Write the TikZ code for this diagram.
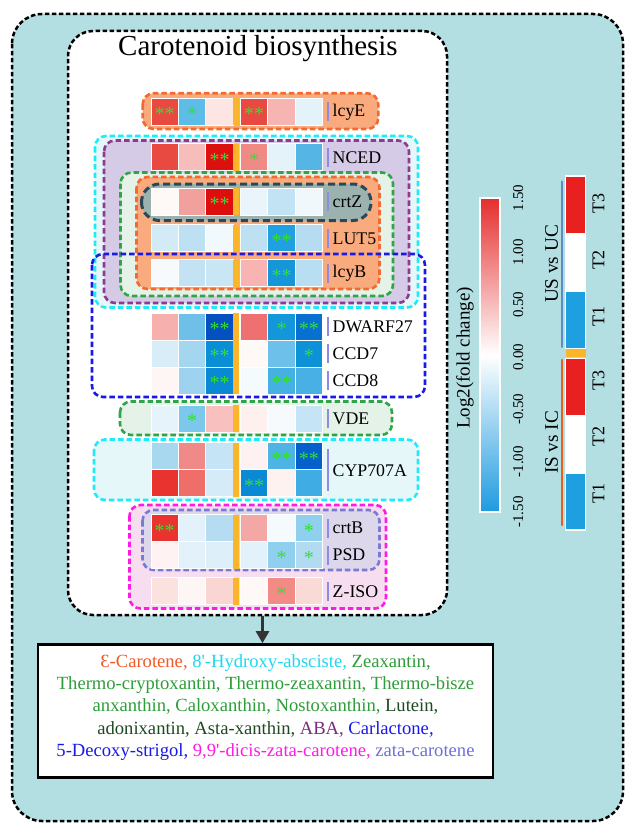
\documentclass[tikz,border=0pt]{standalone}
\usepackage{fontspec}
\setmainfont{Liberation Serif}
\usetikzlibrary{arrows.meta}
\definecolor{teal}{HTML}{B3DFE3}
\definecolor{ofill}{HTML}{FAAB7E}
\definecolor{oline}{HTML}{F26A30}
\definecolor{cline}{HTML}{1EEBFA}
\definecolor{cfill}{HTML}{E6F7FA}
\definecolor{pline}{HTML}{8E3A8E}
\definecolor{pfill}{HTML}{D5CBE7}
\definecolor{gline}{HTML}{30A548}
\definecolor{gfill}{HTML}{E4F2E8}
\definecolor{zline}{HTML}{2A4858}
\definecolor{zfill}{HTML}{9CB2AE}
\definecolor{bline}{HTML}{1A1AE6}
\definecolor{mline}{HTML}{FF1AE6}
\definecolor{mfill}{HTML}{F6DDF0}
\definecolor{sline}{HTML}{7A7AD2}
\definecolor{sfill}{HTML}{DDD7EC}
\definecolor{barorange}{HTML}{FBB52A}
\definecolor{labelbar}{HTML}{8C8CE6}
\definecolor{stargreen}{HTML}{33E033}
\definecolor{cbred}{HTML}{E52E2E}
\definecolor{cbblue}{HTML}{1E9AE0}
\definecolor{tred}{HTML}{E82020}
\definecolor{tblue}{HTML}{1EA0E0}
\definecolor{usline}{HTML}{5A8BC2}
\definecolor{isline}{HTML}{E8601C}
\definecolor{arrowgray}{HTML}{333333}
\definecolor{tOrange}{HTML}{F05A28}
\definecolor{tCyan}{HTML}{1ED8F0}
\definecolor{tGreen}{HTML}{2E9E3A}
\definecolor{tDkGreen}{HTML}{1E4A22}
\definecolor{tPurple}{HTML}{7A2A7A}
\definecolor{tBlue}{HTML}{1A1AE8}
\definecolor{tMagenta}{HTML}{FF1AE6}
\definecolor{tSlate}{HTML}{6F6FD8}
\newcommand\hrow[3]{%
  \foreach \c/\n [count=\i] in {#3} {%
    \pgfmathsetmacro\xx{137.3+27.4*\i+7.2*(\i>3)}%
    \node[hcell,hx=\c] (#1-\i) at (\xx,#2) {\ifcase\n\or*\or**\fi};}}
\begin{document}
\begin{tikzpicture}[x=1pt,y=-1pt,
  hcell/.style={draw=white,line width=0.9,minimum width=27.4,minimum height=27,inner sep=0,outer sep=0,text=stargreen,font=\fontsize{20}{20}\selectfont,text height=18pt,text depth=0pt},
  hx/.code={\xglobal\definecolor{hx#1}{HTML}{#1}\pgfkeysalso{fill=hx#1}},
  grp/.style={line width=2.6,dash pattern=on 5.5pt off 3pt,rounded corners=11},
  lbl/.style={anchor=west,inner sep=0,font=\fontsize{17.8}{20}\selectfont},
  lbar/.style={fill=labelbar,draw=none,minimum width=2.8,minimum height=19,inner sep=0},
  obar/.style={fill=barorange,draw=none,minimum width=5.2,minimum height=27,inner sep=0},
  bdash/.style={line width=2.5,dash pattern=on 4.5pt off 2.5pt},
  rot/.style={rotate=90,inner sep=0}
]
\useasboundingbox (0,0) rectangle (625,824);
% outer background
\draw[bdash,fill=teal,rounded corners=30] (12,14) rectangle (623,821);
% inner main box
\node[draw,bdash,fill=white,rounded corners=25,minimum width=379,minimum height=584,inner sep=0] (main) at (257.5,323) {};
\node[font=\fontsize{29}{32}\selectfont,inner sep=0] (title) at (258,49) {Carotenoid biosynthesis};
% group boxes
\draw[grp,draw=oline,fill=ofill] (142.7,93.3) rectangle (378.3,129);
\draw[grp,draw=cline,fill=cfill] (95,136) rectangle (418,307.5);
\draw[grp,draw=pline,fill=pfill] (104,140.5) rectangle (409,303);
\draw[grp,draw=gline,fill=gfill] (120.5,172.5) rectangle (393,296);
\draw[grp,draw=oline,fill=ofill] (136.5,177) rectangle (379.5,289);
\draw[grp,draw=zline,fill=zfill,line width=3,dash pattern=on 7pt off 4pt,rounded corners=18] (141.5,184) rectangle (371,220.5);
\draw[grp,draw=bline] (92,254) rectangle (425,397);
\draw[grp,draw=gline,fill=gfill] (120,401.5) rectangle (392,435);
\draw[grp,draw=cline,fill=cfill] (94,439.5) rectangle (418,500);
\draw[grp,draw=mline,fill=mfill] (129.5,505) rectangle (386,608.5);
\draw[grp,draw=sline,fill=sfill] (142.5,510) rectangle (379.5,570);
% heatmap rows
\hrow{lcyE}{111.8}{E84A42/2,5DBCE8/1,FCE5E3/0,E84A42/2,F6B4B2/0,E4F2F9/0}
\hrow{NCED}{157.3}{E84A42/0,F7BDBB/0,DD1010/2,F08A85/1,E4F2F9/0,55B5E5/0}
\hrow{crtZ}{201.8}{FEF8F7/0,F2A09D/0,DD0E0E/2,EAF5FB/0,C2E3F4/0,F0F8FC/0}
\hrow{LUT5}{238.3}{D3EBF7/0,BDE0F2/0,F2F9FC/0,BDE0F2/0,20A0E0/2,B5DCF1/0}
\hrow{lcyB}{273}{F6FAFD/0,C3E3F4/0,C9E6F5/0,F7B4B3/0,1496D8/2,B8DEF2/0}
\hrow{DWARF}{326.6}{F6B0AE/0,6EC0E8/0,0550C0/2,EF7070/0,1496DA/1,0870D0/2}
\hrow{CCD7}{353.8}{D8EDF8/0,A5D6F0/0,0A8ED6/2,FEF8F6/0,6CC0EA/0,0D92D8/1}
\hrow{CCD8}{380.8}{FEF6F5/0,9DD3EF/0,0A88D4/2,F5FAFD/0,45B0E4/2,48B0E4/0}
\hrow{VDE}{418.8}{E6F3FA/0,7CC7EC/1,F8C0BF/0,FDF0EF/0,F6FAFD/0,C5E4F5/0}
\hrow{cypA}{456.3}{A8D8F0/0,F08A88/0,C5E4F5/0,FDF2F1/0,4EB4E6/2,0660CC/2}
\hrow{cypB}{483.3}{E8332E/0,F06E6A/0,D5ECF8/0,0A8AD4/2,FEF2F1/0,40ACE4/0}
\hrow{crtB}{528}{E8332E/2,E2F1FA/0,B5DCF1/0,F4A8A6/0,F4FAFD/0,8ED0EE/1}
\hrow{PSD}{555}{FEF3F2/0,E2F1FA/0,DDEFF9/0,E3F2FA/0,90D0EE/1,B2DBF1/1}
\hrow{ZISO}{591.3}{FBE2DF/0,FEF6F5/0,FAD6D3/0,FEF8F7/0,F28A86/1,FADAD7/0}
% orange separators
\node[obar] (ob1) at (235.9,111.8) {};
\node[obar] (ob2) at (235.9,157.3) {};
\node[obar] (ob3) at (235.9,201.8) {};
\node[obar] (ob4) at (235.9,238.3) {};
\node[obar] (ob5) at (235.9,273) {};
\node[obar,minimum height=81] (ob6) at (235.9,353.8) {};
\node[obar] (ob7) at (235.9,418.8) {};
\node[obar,minimum height=54] (ob8) at (235.9,469.8) {};
\node[obar,minimum height=54] (ob9) at (235.9,541.5) {};
\node[obar] (ob10) at (235.9,591.3) {};
% label bars and labels
\foreach \nm/\y/\t in {a/111.8/lcyE,b/157.3/NCED,c/201.8/crtZ,d/238.3/LUT5,e/273/lcyB,f/326.6/DWARF27,g/353.8/CCD7,h/380.8/CCD8,i/418.8/VDE,k/528/crtB,l/555/PSD,m/591.3/Z-ISO}{
  \node[lbar] (lb\nm) at (328,\y) {};
  \node[lbl] (lt\nm) at (332.5,\y) {\t};
}
\node[lbar,minimum height=42] (lbj) at (328,470) {};
\node[lbl] (ltj) at (332.5,470.5) {CYP707A};
% colour bar legend
\shade[top color=cbred,bottom color=cbblue,middle color=white] (480,198) rectangle (500,512);
\draw[white,line width=1.5] (480,198) rectangle (500,512);
\node[rot,font=\fontsize{19}{20}\selectfont] (cblab) at (465,358) {Log2(fold change)};
\foreach \v/\y [count=\k] in {1.50/198,1.00/252.3,0.50/304.7,0.00/357,-0.50/409.3,-1.00/461.7,-1.50/512}{
  \node[rot,font=\fontsize{15}{16}\selectfont] (tk\k) at (518.3,\y) {\v};
}
% group bar legend
\fill[tred] (565.7,176) rectangle (585.7,232.7);
\fill[white] (565.7,232.7) rectangle (585.7,291.7);
\fill[tblue] (565.7,291.7) rectangle (585.7,348.3);
\fill[barorange] (565.7,349.3) rectangle (585.7,357.3);
\fill[tred] (565.7,358.3) rectangle (585.7,415);
\fill[white] (565.7,415) rectangle (585.7,474);
\fill[tblue] (565.7,474) rectangle (585.7,530);
\draw[white,line width=1.2] (565.7,176) rectangle (585.7,348.3);
\draw[white,line width=1.2] (565.7,358.3) rectangle (585.7,530);
\draw[usline,line width=2.6,line cap=round] (562,181.7) -- (562,346.7);
\draw[isline,line width=2.6,line cap=round] (562,360) -- (562,525);
\node[rot,font=\fontsize{19.2}{20}\selectfont] (us) at (551.5,264) {US vs UC};
\node[rot,font=\fontsize{19.2}{20}\selectfont] (is) at (551.5,442.5) {IS vs IC};
\foreach \t/\y [count=\k] in {T3/203.3,T2/260,T1/316.7,T3/380,T2/436.7,T1/493.3}{
  \node[rot,font=\fontsize{18}{20}\selectfont] (tl\k) at (598.5,\y) {\t};
}
% products box
\node[draw=black,line width=2.6,fill=white,minimum width=455,minimum height=133,inner sep=0] (prod) at (265.5,711) {};
\node[align=center,inner sep=0,font=\fontsize{18.6}{22.3}\selectfont] (prodtext) at (265.5,707.5) {%
\textcolor{tOrange}{Ɛ-Carotene,} \textcolor{tCyan}{8\textquotesingle-Hydroxy-absciste,} \textcolor{tGreen}{Zeaxantin,}\\
\textcolor{tGreen}{Thermo-cryptoxantin, Thermo-zeaxantin, Thermo-bisze}\\
\textcolor{tGreen}{anxanthin, Caloxanthin, Nostoxanthin,} \textcolor{tDkGreen}{Lutein,}\\
\textcolor{tDkGreen}{adonixantin, Asta-xanthin,} \textcolor{tPurple}{ABA,} \textcolor{tBlue}{Carlactone,}\\
\textcolor{tBlue}{5-Decoxy-strigol,} \textcolor{tMagenta}{9,9\textquotesingle-dicis-zata-carotene,} \textcolor{tSlate}{zata-carotene}};
\draw[arrowgray,line width=2.6,-{Triangle[width=13pt,length=12pt]}] ([xshift=5]main.south) -- ([xshift=-3]prod.north);
\end{tikzpicture}
\end{document}
